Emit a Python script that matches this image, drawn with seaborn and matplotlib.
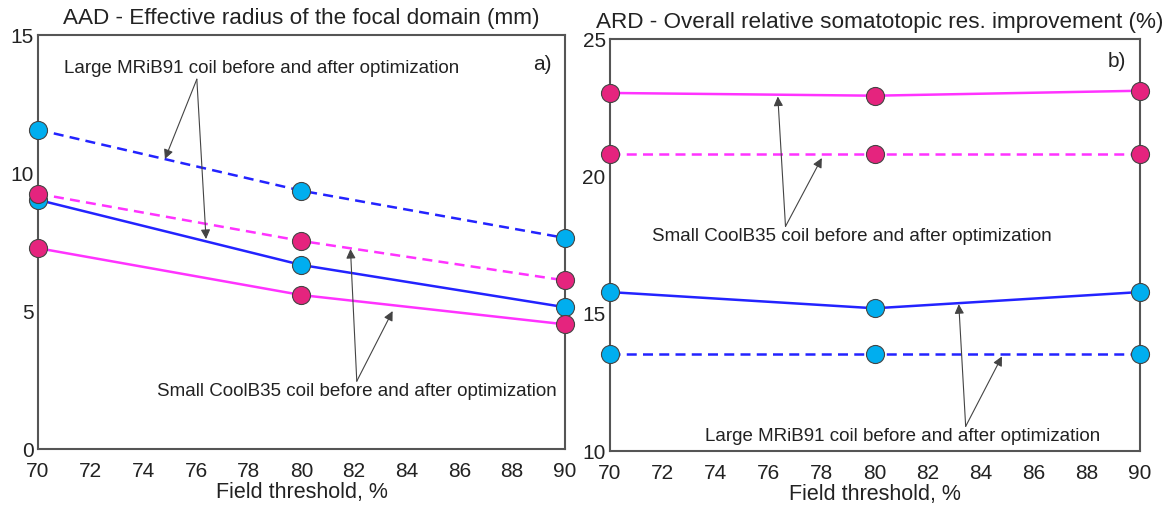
import matplotlib
matplotlib.use("Agg")
import matplotlib.pyplot as plt
import seaborn as sns
import pandas as pd

sns.set_theme(style="white")
plt.rcParams['font.family'] = ['Liberation Sans', 'DejaVu Sans']

threshold = [70, 80, 90]

# Panel a) AAD - effective radius (mm)
aad_large_before = [11.57, 9.36, 7.65]
aad_large_after = [9.03, 6.67, 5.14]
aad_small_before = [9.25, 7.54, 6.11]
aad_small_after = [7.28, 5.58, 4.52]

# Panel b) ARD - relative improvement (%)
ard_small_after = [23.04, 22.94, 23.12]
ard_small_before = [20.82, 20.82, 20.82]
ard_large_after = [15.79, 15.20, 15.79]
ard_large_before = [13.52, 13.52, 13.52]

x_ticks = list(range(70, 91, 2))

BLUE = "#2323ff"
MAGENTA = "#ff33ff"
CYAN_M = "#00aeef"
PINK_M = "#e5247e"
SPINE = "#555555"

fig = plt.figure(figsize=(11.75, 5.08), dpi=100)
axL = fig.add_axes([0.0323, 0.116, 0.4485, 0.815])
axR = fig.add_axes([0.519, 0.112, 0.451, 0.811])


def draw(ax, y, line_color, marker_color, ls):
    df = pd.DataFrame({"x": threshold, "y": y})
    sns.lineplot(data=df, x="x", y="y", ax=ax, color=line_color, linestyle=ls,
                 linewidth=1.8, marker="o", markersize=13,
                 markerfacecolor=marker_color, markeredgecolor="#444444",
                 markeredgewidth=0.8, clip_on=False, zorder=3)


draw(axL, aad_large_before, BLUE, CYAN_M, (0, (4, 2.5)))
draw(axL, aad_large_after, BLUE, CYAN_M, "-")
draw(axL, aad_small_before, MAGENTA, PINK_M, (0, (4, 2.5)))
draw(axL, aad_small_after, MAGENTA, PINK_M, "-")

draw(axR, ard_large_before, BLUE, CYAN_M, (0, (4, 2.5)))
draw(axR, ard_large_after, BLUE, CYAN_M, "-")
draw(axR, ard_small_before, MAGENTA, PINK_M, (0, (4, 2.5)))
draw(axR, ard_small_after, MAGENTA, PINK_M, "-")

for ax, ylim, yt in [(axL, (0, 15), [0, 5, 10, 15]), (axR, (10, 25), [10, 15, 20, 25])]:
    ax.set_xlim(70, 90)
    ax.set_ylim(*ylim)
    ax.set_xticks(x_ticks)
    ax.set_yticks(yt)
    ax.tick_params(direction="in", length=5, width=1, colors=SPINE,
                   labelsize=15, labelcolor="#222222", pad=3)
    ax.tick_params(axis="x", pad=9)
    ax.set_xlabel("Field threshold, %", fontsize=15.5, color="#222222", labelpad=1)
    ax.set_ylabel("")
    for s in ax.spines.values():
        s.set_color(SPINE)
        s.set_linewidth(1.5)
    ax.spines["left"].set_zorder(2)
    ax.spines["right"].set_zorder(2)

axL.set_title("AAD - Effective radius of the focal domain (mm)", fontsize=16.2,
              color="#222222", pad=8)
axR.set_title("ARD - Overall relative somatotopic res. improvement (%)", fontsize=16.2,
              color="#222222", pad=8, x=0.51)

axL.text(0.975, 0.93, "a)", transform=axL.transAxes, ha="right", va="center",
         fontsize=15, color="#222222")
axR.text(0.975, 0.945, "b)", transform=axR.transAxes, ha="right", va="center",
         fontsize=15, color="#222222")

arrow = dict(arrowstyle="-|>", color="#444444", lw=0.8, mutation_scale=14,
             shrinkA=0, shrinkB=0)
txt_kw = dict(fontsize=13.5, color="#222222", va="center")

# Panel a annotations
axL.text(71.0, 13.8, "Large MRiB91 coil before and after optimization", ha="left", **txt_kw)
axL.annotate("", xy=(74.82, 10.51), xytext=(76.03, 13.4), arrowprops=arrow)
axL.annotate("", xy=(76.38, 7.61), xytext=(76.03, 13.4), arrowprops=arrow)

axL.text(89.7, 2.1, "Small CoolB35 coil before and after optimization", ha="right", **txt_kw)
axL.annotate("", xy=(81.86, 7.25), xytext=(82.1, 2.46), arrowprops=arrow)
axL.annotate("", xy=(83.46, 5.0), xytext=(82.1, 2.46), arrowprops=arrow)

# Panel b annotations
axR.text(71.6, 17.83, "Small CoolB35 coil before and after optimization", ha="left", **txt_kw)
axR.annotate("", xy=(76.34, 22.91), xytext=(76.63, 18.18), arrowprops=arrow)
axR.annotate("", xy=(78.0, 20.67), xytext=(76.63, 18.18), arrowprops=arrow)

axR.text(73.6, 10.52, "Large MRiB91 coil before and after optimization", ha="left", **txt_kw)
axR.annotate("", xy=(83.17, 15.35), xytext=(83.43, 10.9), arrowprops=arrow)
axR.annotate("", xy=(84.8, 13.45), xytext=(83.43, 10.9), arrowprops=arrow)

fig.savefig("out.png", dpi=100)
